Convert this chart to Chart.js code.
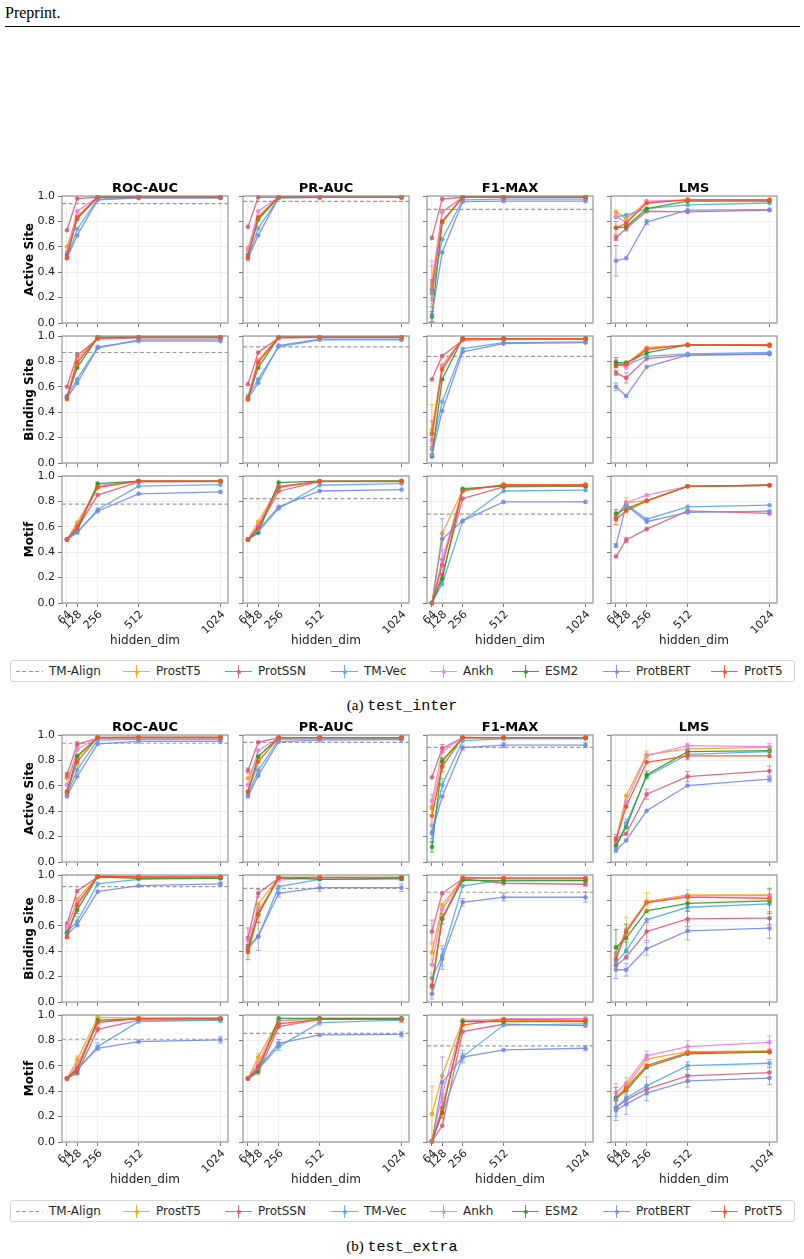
<!DOCTYPE html>
<html><head><meta charset="utf-8">
<script src="https://cdn.jsdelivr.net/npm/chart.js@4.4.1/dist/chart.umd.min.js"></script>
<style>
body{margin:0;background:#fff;width:804px;height:1259px;position:relative;overflow:hidden;font-family:"DejaVu Sans";}
canvas{position:absolute;}
.hdr{position:absolute;left:5px;top:4px;font:16px "Liberation Serif";color:#000;}
.rule{position:absolute;left:5px;width:795px;top:26px;height:1px;background:#000;}
.legend{position:absolute;left:10px;width:785px;height:22px;border:1px solid #d6d6d6;border-radius:3px;box-sizing:border-box;background:#fff;}
.lh{position:absolute;top:0;width:27px;height:20px;}
.lh .h{position:absolute;left:0;right:0;top:10px;height:1.3px;}
.lh .v{position:absolute;left:13px;width:1.2px;top:4px;height:13px;}
.lh .d{position:absolute;left:11.6px;top:8.6px;width:4px;height:4px;border-radius:50%;}
.lt{position:absolute;top:0;font:12px "DejaVu Sans";line-height:20px;color:#262626;white-space:nowrap;}
.cap{position:absolute;left:0;width:804px;text-align:center;font:15px "Liberation Serif";color:#000;}
.cap code{font:15px "Liberation Mono";}
</style></head>
<body>
<div class="hdr">Preprint.</div>
<div class="rule"></div>
<script>
// ---------------- data ----------------
const X_DIMS = [64, 128, 256, 512, 1024];
const Y_TICKS = [0, 0.2, 0.4, 0.6, 0.8, 1.0];
const METRICS = ['ROC-AUC', 'PR-AUC', 'F1-MAX', 'LMS'];
const TASKS = ['Active Site', 'Binding Site', 'Motif'];
const SERIES = ['ProstT5', 'ProtSSN', 'TM-Vec', 'Ankh', 'ESM2', 'ProtBERT', 'ProtT5'];
const COLORS = ['rgba(245,166,10,0.9)', 'rgba(222,82,112,0.85)', 'rgba(88,168,230,0.9)', 'rgba(236,125,236,0.9)', 'rgba(40,155,40,0.9)', 'rgba(120,136,235,0.9)', 'rgba(255,80,25,0.92)'];
const TM_COLOR = '#9a9a9a';

// test_inter  (rows: ProstT5, ProtSSN, TM-Vec, Ankh, ESM2, ProtBERT, ProtT5)
const INTER_ACTIVE_ROC = [[0.60,0.84,0.99,0.99,0.99],[0.73,0.98,0.99,0.99,0.99],[0.51,0.74,0.975,0.985,0.985],[0.56,0.88,0.99,0.99,0.99],[0.535,0.82,0.99,0.99,0.99],[0.51,0.69,0.97,0.985,0.985],[0.52,0.83,0.99,0.99,0.99]];
const INTER_ACTIVE_PR  = [[0.59,0.835,0.99,0.99,0.99],[0.757,0.99,0.99,0.99,0.99],[0.51,0.745,0.985,0.99,0.99],[0.57,0.88,0.99,0.99,0.99],[0.535,0.815,0.99,0.99,0.99],[0.505,0.69,0.985,0.99,0.99],[0.52,0.83,0.99,0.99,0.99]];
const INTER_ACTIVE_F1  = [[0.29,0.875,0.99,0.99,0.99],[0.67,0.975,0.99,0.99,0.99],[0.235,0.66,0.97,0.975,0.975],[0.32,0.875,0.99,0.99,0.99],[0.05,0.795,0.99,0.99,0.99],[0.065,0.555,0.955,0.96,0.96],[0.26,0.80,0.99,0.99,0.99]];
const INTER_ACTIVE_LMS = [[0.875,0.82,0.95,0.97,0.97],[0.67,0.745,0.88,0.875,0.888],[0.835,0.85,0.90,0.93,0.945],[0.84,0.79,0.96,0.97,0.965],[0.75,0.757,0.90,0.96,0.96],[0.49,0.51,0.795,0.888,0.893],[0.75,0.785,0.945,0.97,0.97]];
const INTER_BINDING_ROC = [[0.52,0.82,0.99,0.99,0.99],[0.60,0.85,0.975,0.985,0.985],[0.527,0.66,0.915,0.96,0.96],[0.515,0.80,0.98,0.99,0.99],[0.52,0.75,0.99,0.99,0.99],[0.51,0.63,0.905,0.97,0.97],[0.504,0.79,0.985,0.99,0.99]];
const INTER_BINDING_PR  = [[0.52,0.81,0.99,0.99,0.99],[0.62,0.87,0.985,0.99,0.99],[0.527,0.66,0.915,0.97,0.97],[0.52,0.80,0.985,0.99,0.99],[0.51,0.75,0.99,0.99,0.99],[0.505,0.63,0.925,0.975,0.975],[0.50,0.79,0.99,0.99,0.99]];
const INTER_BINDING_F1  = [[0.26,0.77,0.98,0.98,0.98],[0.66,0.843,0.966,0.975,0.975],[0.11,0.483,0.90,0.948,0.953],[0.18,0.757,0.98,0.98,0.98],[0.052,0.66,0.98,0.98,0.98],[0.065,0.41,0.875,0.94,0.948],[0.23,0.736,0.98,0.98,0.98]];
const INTER_BINDING_LMS = [[0.78,0.78,0.91,0.93,0.93],[0.71,0.67,0.822,0.85,0.856],[0.775,0.77,0.84,0.86,0.87],[0.80,0.75,0.90,0.93,0.93],[0.79,0.79,0.867,0.93,0.924],[0.60,0.527,0.757,0.85,0.86],[0.765,0.778,0.895,0.93,0.93]];
const INTER_MOTIF_ROC = [[0.50,0.634,0.915,0.96,0.96],[0.50,0.587,0.85,0.953,0.955],[0.50,0.553,0.736,0.92,0.932],[0.50,0.61,0.925,0.96,0.96],[0.50,0.57,0.94,0.96,0.96],[0.50,0.56,0.723,0.86,0.875],[0.50,0.60,0.91,0.96,0.96]];
const INTER_MOTIF_PR  = [[0.50,0.64,0.915,0.957,0.958],[0.50,0.587,0.88,0.955,0.955],[0.50,0.56,0.744,0.927,0.94],[0.50,0.61,0.92,0.957,0.958],[0.50,0.553,0.948,0.96,0.962],[0.50,0.574,0.757,0.882,0.893],[0.50,0.595,0.91,0.957,0.958]];
const INTER_MOTIF_F1  = [[0.0,0.548,0.888,0.93,0.928],[0.0,0.222,0.822,0.914,0.92],[0.0,0.15,0.647,0.882,0.888],[0.0,0.34,0.89,0.925,0.925],[0.0,0.188,0.90,0.92,0.92],[0.0,0.504,0.647,0.796,0.796],[0.0,0.30,0.883,0.932,0.932]];
const INTER_MOTIF_LMS = [[0.666,0.79,0.805,0.919,0.927],[0.366,0.496,0.582,0.726,0.705],[0.673,0.778,0.66,0.757,0.77],[0.68,0.79,0.849,0.919,0.927],[0.705,0.744,0.805,0.919,0.927],[0.452,0.77,0.64,0.713,0.723],[0.658,0.726,0.804,0.919,0.927]];
const TM_ALIGN_INTER = [[0.94,0.958,0.895,null],[0.87,0.914,0.84,null],[0.778,0.822,0.70,null]];

// test_extra
const EXTRA_ACTIVE_ROC = [[0.66,0.825,0.98,0.982,0.982],[0.686,0.927,0.975,0.975,0.975],[0.53,0.725,0.96,0.966,0.963],[0.607,0.887,0.98,0.982,0.982],[0.555,0.835,0.98,0.982,0.982],[0.516,0.673,0.93,0.95,0.95],[0.547,0.79,0.982,0.982,0.982]];
const EXTRA_ACTIVE_PR  = [[0.66,0.83,0.98,0.98,0.98],[0.72,0.942,0.98,0.98,0.98],[0.53,0.72,0.965,0.97,0.97],[0.607,0.877,0.98,0.98,0.98],[0.555,0.83,0.98,0.98,0.98],[0.516,0.68,0.948,0.96,0.963],[0.552,0.79,0.98,0.98,0.98]];
const EXTRA_ACTIVE_F1  = [[0.424,0.80,0.98,0.98,0.98],[0.667,0.895,0.98,0.98,0.98],[0.233,0.607,0.955,0.97,0.97],[0.482,0.87,0.98,0.98,0.98],[0.118,0.79,0.98,0.98,0.98],[0.228,0.516,0.90,0.92,0.92],[0.364,0.75,0.982,0.98,0.98]];
const EXTRA_ACTIVE_LMS = [[0.175,0.521,0.843,0.89,0.903],[0.188,0.222,0.534,0.673,0.717],[0.11,0.306,0.673,0.848,0.869],[0.162,0.476,0.838,0.916,0.908],[0.131,0.275,0.686,0.869,0.877],[0.089,0.17,0.403,0.602,0.652],[0.175,0.437,0.785,0.835,0.835]];
const EXTRA_BINDING_ROC = [[0.568,0.81,0.99,0.985,0.985],[0.615,0.874,0.985,0.985,0.985],[0.55,0.634,0.93,0.966,0.975],[0.594,0.783,0.985,0.985,0.985],[0.542,0.725,0.985,0.974,0.974],[0.529,0.607,0.869,0.916,0.93],[0.51,0.764,0.99,0.985,0.985]];
const EXTRA_BINDING_PR  = [[0.41,0.77,0.98,0.982,0.982],[0.503,0.856,0.975,0.98,0.98],[0.442,0.516,0.908,0.966,0.975],[0.49,0.72,0.96,0.98,0.98],[0.424,0.69,0.98,0.966,0.97],[0.416,0.516,0.856,0.90,0.90],[0.393,0.686,0.982,0.982,0.982]];
const EXTRA_BINDING_F1  = [[0.39,0.764,0.975,0.975,0.975],[0.555,0.856,0.97,0.935,0.927],[0.188,0.364,0.914,0.96,0.96],[0.293,0.73,0.975,0.975,0.975],[0.123,0.654,0.96,0.953,0.955],[0.063,0.338,0.785,0.825,0.825],[0.128,0.66,0.979,0.975,0.975]];
const EXTRA_BINDING_LMS = [[0.385,0.568,0.79,0.843,0.843],[0.285,0.353,0.555,0.654,0.66],[0.31,0.403,0.647,0.746,0.772],[0.37,0.56,0.783,0.835,0.838],[0.43,0.503,0.717,0.777,0.796],[0.254,0.254,0.419,0.56,0.581],[0.338,0.55,0.783,0.825,0.817]];
const EXTRA_MOTIF_ROC = [[0.50,0.647,0.982,0.975,0.975],[0.50,0.542,0.887,0.96,0.96],[0.50,0.568,0.751,0.948,0.96],[0.50,0.607,0.95,0.97,0.97],[0.50,0.563,0.96,0.97,0.97],[0.50,0.575,0.738,0.79,0.804],[0.50,0.58,0.94,0.974,0.975]];
const EXTRA_MOTIF_PR  = [[0.50,0.668,0.955,0.97,0.97],[0.50,0.547,0.908,0.965,0.965],[0.50,0.573,0.751,0.94,0.96],[0.50,0.62,0.953,0.974,0.974],[0.50,0.563,0.974,0.974,0.974],[0.50,0.58,0.777,0.843,0.848],[0.50,0.594,0.93,0.966,0.966]];
const EXTRA_MOTIF_F1  = [[0.22,0.52,0.96,0.96,0.955],[0.005,0.128,0.869,0.927,0.916],[0.005,0.228,0.673,0.921,0.93],[0.01,0.372,0.95,0.969,0.974],[0.005,0.233,0.948,0.948,0.948],[0.005,0.469,0.668,0.725,0.738],[0.005,0.267,0.921,0.966,0.96]];
const EXTRA_MOTIF_LMS = [[0.35,0.437,0.652,0.712,0.717],[0.267,0.332,0.416,0.521,0.547],[0.272,0.346,0.442,0.602,0.62],[0.39,0.463,0.678,0.751,0.785],[0.35,0.406,0.589,0.694,0.707],[0.249,0.298,0.385,0.482,0.503],[0.332,0.424,0.602,0.704,0.712]];
const TM_ALIGN_EXTRA = [[0.935,0.942,0.903,null],[0.908,0.895,0.864,null],[0.809,0.856,0.757,null]];

// error bars: [group, task, metric, series, dim index, half-width]
const ERRORS = [
 ['inter',0,2,'Ankh',0,0.17],['inter',0,2,'ProstT5',0,0.16],['inter',0,2,'ProtT5',0,0.08],['inter',0,2,'ProtBERT',0,0.06],['inter',0,2,'ESM2',0,0.04],['inter',0,2,'TM-Vec',0,0.04],
 ['inter',1,2,'ProstT5',0,0.2],['inter',1,2,'ProtT5',0,0.1],['inter',1,2,'TM-Vec',0,0.04],
 ['inter',2,2,'ProtBERT',1,0.16],['inter',2,2,'Ankh',1,0.08],
 ['inter',0,3,'ProtBERT',0,0.12],['inter',0,3,'ProtT5',0,0.05],['inter',0,3,'ProtSSN',0,0.02],['inter',0,3,'ProtSSN',1,0.02],['inter',0,3,'ProtBERT',2,0.02],
 ['inter',1,3,'ESM2',0,0.04],['inter',1,3,'ProtSSN',1,0.04],['inter',1,3,'ProtBERT',0,0.03],['inter',1,3,'ProtSSN',0,0.02],
 ['inter',2,3,'ProstT5',1,0.04],['inter',2,3,'ProtT5',0,0.04],['inter',2,3,'ESM2',0,0.03],['inter',2,3,'ProtSSN',1,0.02],['inter',2,3,'ProtBERT',0,0.015],
 ['extra',0,0,'ProtSSN',0,0.02],['extra',0,0,'ProtSSN',1,0.02],['extra',0,0,'TM-Vec',1,0.03],['extra',0,0,'ProtT5',1,0.02],
 ['extra',1,0,'ESM2',1,0.03],['extra',1,0,'TM-Vec',1,0.04],['extra',1,0,'ProtBERT',4,0.015],
 ['extra',2,0,'ProstT5',1,0.03],['extra',2,0,'TM-Vec',2,0.03],['extra',2,0,'ProtBERT',4,0.025],['extra',2,0,'TM-Vec',4,0.02],['extra',2,0,'ProtSSN',2,0.02],
 ['extra',0,1,'ProtSSN',0,0.02],['extra',0,1,'TM-Vec',1,0.03],
 ['extra',1,1,'ProtSSN',0,0.08],['extra',1,1,'ProtT5',0,0.06],['extra',1,1,'ProtBERT',1,0.11],['extra',1,1,'ProtSSN',1,0.03],['extra',1,1,'ProtT5',1,0.06],['extra',1,1,'ProtBERT',2,0.03],['extra',1,1,'ProtBERT',3,0.03],['extra',1,1,'ProtBERT',4,0.03],['extra',1,1,'ESM2',4,0.015],
 ['extra',2,1,'ProstT5',1,0.03],['extra',2,1,'TM-Vec',2,0.03],['extra',2,1,'ProtBERT',2,0.03],['extra',2,1,'TM-Vec',3,0.02],['extra',2,1,'ProtBERT',4,0.02],['extra',2,1,'TM-Vec',4,0.02],
 ['extra',0,2,'Ankh',0,0.05],['extra',0,2,'ProtT5',0,0.08],['extra',0,2,'ProtBERT',0,0.07],['extra',0,2,'TM-Vec',0,0.05],['extra',0,2,'ESM2',0,0.04],['extra',0,2,'ProstT5',0,0.05],['extra',0,2,'TM-Vec',1,0.05],['extra',0,2,'ProtSSN',1,0.03],['extra',0,2,'ProtT5',1,0.04],['extra',0,2,'ESM2',1,0.03],['extra',0,2,'ProtBERT',2,0.02],['extra',0,2,'ProtBERT',3,0.02],['extra',0,2,'ProtBERT',4,0.02],
 ['extra',1,2,'ProtSSN',0,0.09],['extra',1,2,'ProstT5',0,0.06],['extra',1,2,'ProtT5',0,0.06],['extra',1,2,'TM-Vec',0,0.04],['extra',1,2,'ProtBERT',0,0.04],['extra',1,2,'TM-Vec',1,0.08],['extra',1,2,'ProtBERT',1,0.08],['extra',1,2,'ESM2',1,0.04],['extra',1,2,'ProtBERT',2,0.03],['extra',1,2,'ProtBERT',3,0.03],['extra',1,2,'ProtBERT',4,0.04],['extra',1,2,'ProtSSN',4,0.015],
 ['extra',2,2,'ProstT5',0,0.22],['extra',2,2,'ProtBERT',1,0.2],['extra',2,2,'ProtT5',1,0.08],['extra',2,2,'Ankh',1,0.06],['extra',2,2,'TM-Vec',2,0.05],['extra',2,2,'ProtBERT',2,0.03],['extra',2,2,'ProtBERT',4,0.02],
 ['extra',0,3,'ProtSSN',0,0.03],['extra',0,3,'TM-Vec',1,0.03],['extra',0,3,'ProstT5',2,0.03],['extra',0,3,'ESM2',2,0.03],['extra',0,3,'ProtSSN',2,0.04],['extra',0,3,'Ankh',3,0.02],['extra',0,3,'TM-Vec',3,0.03],['extra',0,3,'ProtSSN',3,0.04],['extra',0,3,'ProtT5',3,0.03],['extra',0,3,'ProstT5',4,0.03],['extra',0,3,'ProtSSN',4,0.04],['extra',0,3,'ProtBERT',4,0.02],
 ['extra',1,3,'ESM2',0,0.14],['extra',1,3,'ProtBERT',0,0.07],['extra',1,3,'ProstT5',1,0.1],['extra',1,3,'ESM2',1,0.11],['extra',1,3,'TM-Vec',1,0.07],['extra',1,3,'ProtBERT',1,0.05],['extra',1,3,'ProstT5',2,0.07],['extra',1,3,'ProtSSN',2,0.07],['extra',1,3,'ProtBERT',2,0.05],['extra',1,3,'ESM2',3,0.06],['extra',1,3,'ProtSSN',3,0.06],['extra',1,3,'ProtBERT',3,0.07],['extra',1,3,'ESM2',4,0.1],['extra',1,3,'ProtBERT',4,0.08],['extra',1,3,'ProtSSN',4,0.05],['extra',1,3,'ProstT5',3,0.04],['extra',1,3,'ProstT5',4,0.04],
 ['extra',2,3,'ESM2',0,0.08],['extra',2,3,'Ankh',0,0.07],['extra',2,3,'ProtBERT',0,0.08],['extra',2,3,'TM-Vec',0,0.07],['extra',2,3,'ProstT5',1,0.07],['extra',2,3,'ProtBERT',1,0.08],['extra',2,3,'TM-Vec',2,0.07],['extra',2,3,'ProtBERT',2,0.06],['extra',2,3,'Ankh',2,0.04],['extra',2,3,'Ankh',3,0.05],['extra',2,3,'ProtSSN',3,0.05],['extra',2,3,'ProtBERT',3,0.05],['extra',2,3,'TM-Vec',3,0.03],['extra',2,3,'Ankh',4,0.05],['extra',2,3,'ProtBERT',4,0.05],['extra',2,3,'ProtSSN',4,0.04],['extra',2,3,'TM-Vec',4,0.03]
];

const PANELS = {
  inter: [[INTER_ACTIVE_ROC, INTER_ACTIVE_PR, INTER_ACTIVE_F1, INTER_ACTIVE_LMS],
          [INTER_BINDING_ROC, INTER_BINDING_PR, INTER_BINDING_F1, INTER_BINDING_LMS],
          [INTER_MOTIF_ROC, INTER_MOTIF_PR, INTER_MOTIF_F1, INTER_MOTIF_LMS]],
  extra: [[EXTRA_ACTIVE_ROC, EXTRA_ACTIVE_PR, EXTRA_ACTIVE_F1, EXTRA_ACTIVE_LMS],
          [EXTRA_BINDING_ROC, EXTRA_BINDING_PR, EXTRA_BINDING_F1, EXTRA_BINDING_LMS],
          [EXTRA_MOTIF_ROC, EXTRA_MOTIF_PR, EXTRA_MOTIF_F1, EXTRA_MOTIF_LMS]]
};
const TM_ALIGN = {inter: TM_ALIGN_INTER, extra: TM_ALIGN_EXTRA};

// ---------------- layout ----------------
const X_MIN = 33, X_MAX = 1071;
const COL_LEFT = [62, 243, 427, 611];
const PLOT_W = 166, PLOT_H = 127;
const ROW_TOP = {inter: [196, 336, 476], extra: [735, 875, 1015]};
const LEGEND_TOP = {inter: 660, extra: 1200};
const CAPTION_TOP = {inter: 697, extra: 1238};
const CAPTION = {inter: ['(a)', 'test_inter'], extra: ['(b)', 'test_extra']};

Chart.defaults.font.family = 'DejaVu Sans';
Chart.defaults.color = '#222';

function makePanel(g, r, c) {
  const yW = c === 0 ? 62 : 6;
  const padTop = r === 0 ? 0 : 6;
  const titleH = r === 0 ? 14 : 0;
  const topOff = padTop + titleH;
  const xH = r === 2 ? 47 : 6;
  const padRight = 5;
  const cv = document.createElement('canvas');
  const W = yW + PLOT_W + padRight, H = topOff + PLOT_H + xH;
  cv.width = W; cv.height = H;
  cv.style.left = (COL_LEFT[c] - yW) + 'px';
  cv.style.top = (ROW_TOP[g][r] - topOff) + 'px';
  cv.style.width = W + 'px'; cv.style.height = H + 'px';
  document.body.appendChild(cv);

  const vals = PANELS[g][r][c];
  const datasets = SERIES.map((name, i) => ({
    label: name,
    data: X_DIMS.map((x, k) => ({x: x, y: vals[i][k]})),
    borderColor: COLORS[i], backgroundColor: COLORS[i], pointBackgroundColor: COLORS[i],
    borderWidth: 1.3, pointRadius: 2.3, pointBorderWidth: 0, tension: 0, clip: false,
    order: SERIES.length - i
  }));
  const tm = TM_ALIGN[g][r][c];
  if (tm !== null) {
    datasets.push({label: 'TM-Align', data: [{x: X_MIN, y: tm}, {x: X_MAX, y: tm}],
      borderColor: TM_COLOR, borderWidth: 1.2, borderDash: [4, 2.5], pointRadius: 0, order: 20});
  }
  const errs = ERRORS.filter(e => e[0] === g && e[1] === r && e[2] === c);

  const overlay = {
    id: 'overlay' + g + r + c,
    afterDatasetsDraw(chart) {
      const ctx = chart.ctx, xs = chart.scales.x, ys = chart.scales.y;
      ctx.save();
      errs.forEach(e => {
        const si = SERIES.indexOf(e[3]);
        const v = vals[si][e[4]];
        const px = xs.getPixelForValue(X_DIMS[e[4]]);
        const y1 = ys.getPixelForValue(Math.max(0, v - e[5]));
        const y2 = ys.getPixelForValue(Math.min(1.02, v + e[5]));
        ctx.strokeStyle = COLORS[si]; ctx.lineWidth = 1;
        ctx.globalAlpha = 0.75;
        ctx.beginPath();
        ctx.moveTo(px, y1); ctx.lineTo(px, y2);
        ctx.moveTo(px - 2.5, y1); ctx.lineTo(px + 2.5, y1);
        ctx.moveTo(px - 2.5, y2); ctx.lineTo(px + 2.5, y2);
        ctx.stroke();
      });
      ctx.globalAlpha = 1;
      const a = chart.chartArea;
      ctx.strokeStyle = '#8c8c8c'; ctx.lineWidth = 1.1;
      ctx.strokeRect(a.left, a.top, a.right - a.left, a.bottom - a.top);
      ctx.restore();
    }
  };

  const gridOpts = {color: '#ebebeb', lineWidth: 0.8, tickColor: '#555', tickLength: 4, tickWidth: 0.8, drawTicks: true};
  new Chart(cv, {
    type: 'line',
    data: {datasets},
    options: {
      responsive: false, animation: false, devicePixelRatio: 1,
      layout: {padding: {top: padTop, right: padRight, left: 0, bottom: 0}},
      plugins: {
        legend: {display: false}, tooltip: {enabled: false},
        title: {display: r === 0, text: METRICS[c], color: '#000', fullSize: false,
          font: {family: 'DejaVu Sans', size: 13, weight: 'bold', lineHeight: 1}, padding: {top: 0, bottom: 1}}
      },
      scales: {
        x: {
          type: 'linear', min: X_MIN, max: X_MAX,
          afterBuildTicks: s => { s.ticks = X_DIMS.map(v => ({value: v})); },
          afterFit: s => { s.height = xH; s.paddingLeft = 0; s.paddingRight = 0; },
          grid: gridOpts, border: {display: false},
          ticks: {display: r === 2, minRotation: 45, maxRotation: 45, autoSkip: false, labelOffset: 3, padding: 1,
            font: {family: 'DejaVu Sans', size: 11}, color: '#222', callback: v => String(v)},
          title: {display: r === 2, text: 'hidden_dim', color: '#222',
            font: {family: 'DejaVu Sans', size: 12}, padding: {top: 0, bottom: 2}}
        },
        y: {
          min: 0, max: 1,
          afterBuildTicks: s => { s.ticks = Y_TICKS.map(v => ({value: v})); },
          afterFit: s => { s.width = yW; s.paddingTop = 0; s.paddingBottom = 0; },
          grid: gridOpts, border: {display: false},
          ticks: {display: c === 0, padding: 3, font: {family: 'DejaVu Sans', size: 11}, color: '#222',
            callback: v => Number(v).toFixed(1)},
          title: {display: c === 0, text: TASKS[r], color: '#000',
            font: {family: 'DejaVu Sans', size: 12, weight: 'bold'}, padding: {top: 23, bottom: 0}}
        }
      }
    },
    plugins: [overlay]
  });
}

const LEG_X = [15, 122, 224, 330, 429, 511, 602, 710];
function makeLegend(g) {
  const box = document.createElement('div');
  box.className = 'legend';
  box.style.top = LEGEND_TOP[g] + 'px';
  document.body.appendChild(box);
  const items = [{name: 'TM-Align', color: TM_COLOR, dash: true}].concat(SERIES.map((s, i) => ({name: s, color: COLORS[i]})));
  items.forEach((it, i) => {
    const h = document.createElement('div');
    h.className = 'lh';
    h.style.left = (LEG_X[i] - 10) + 'px';
    if (it.dash) {
      h.innerHTML = '<div class="h" style="background:repeating-linear-gradient(90deg,' + it.color + ' 0 4px,transparent 4px 6.5px);height:1.2px"></div>';
    } else {
      h.innerHTML = '<div class="h" style="background:' + it.color + '"></div><div class="v" style="background:' + it.color + '"></div><div class="d" style="background:' + it.color + '"></div>';
    }
    box.appendChild(h);
    const t = document.createElement('div');
    t.className = 'lt';
    t.style.left = (LEG_X[i] - 10 + 33) + 'px';
    t.textContent = it.name;
    box.appendChild(t);
  });
  const cap = document.createElement('div');
  cap.className = 'cap';
  cap.style.top = CAPTION_TOP[g] + 'px';
  cap.innerHTML = CAPTION[g][0] + ' <code>' + CAPTION[g][1] + '</code>';
  document.body.appendChild(cap);
}

['inter', 'extra'].forEach(g => {
  for (let r = 0; r < 3; r++) for (let c = 0; c < 4; c++) makePanel(g, r, c);
  makeLegend(g);
});
</script>
</body></html>
